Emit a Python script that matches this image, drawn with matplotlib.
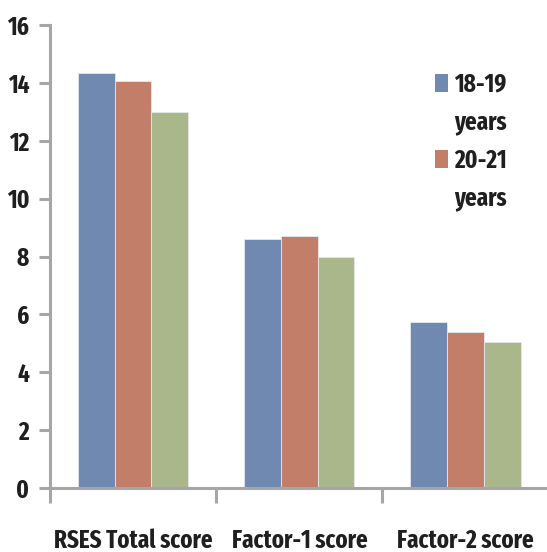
import matplotlib
matplotlib.use("Agg")
import matplotlib.pyplot as plt
import numpy as np
from matplotlib.patches import Patch

# Mean scores per age group
categories = ["RSES Total score", "Factor-1 score", "Factor-2 score"]
series_labels = ["18-19\nyears", "20-21\nyears", "22-23\nyears"]
scores_18_19 = [14.34, 8.60, 5.74]
scores_20_21 = [14.06, 8.71, 5.39]
scores_22_23 = [12.99, 7.98, 5.04]
yticks = [0, 2, 4, 6, 8, 10, 12, 14, 16]

colors = ["#7089B0", "#C27E68", "#AAB78A"]
axis_grey = "#A6A6A6"
text_dark = "#1F1F1F"
fs = 18

plt.rcParams["font.family"] = ["Fira Sans Extra Condensed", "DejaVu Sans"]
plt.rcParams["font.weight"] = "bold"

fig = plt.figure(figsize=(5.47, 5.52), dpi=100)
ax = fig.add_axes([0.0914, 0.1159, 0.9086, 0.8388])

x = np.arange(len(categories))
width = 0.221
all_series = [scores_18_19, scores_20_21, scores_22_23]
for i, (vals, col) in enumerate(zip(all_series, colors)):
    ax.bar(x + (i - 1) * width, vals, width, color=col,
           edgecolor="#E4E8EE", linewidth=0.6, zorder=2)

ax.set_ylim(0, 16)
ax.set_xlim(-0.5, 2.49)
ax.set_yticks(yticks)
ax.set_yticklabels([str(t) for t in yticks], fontsize=fs, color=text_dark,
                   fontweight="bold")

# boundary ticks between categories, labels centred on the groups
ax.set_xticks(np.arange(len(categories)) - 0.5)
ax.set_xticklabels([])
ax.set_xticks(x, minor=True)
ax.set_xticklabels(categories, minor=True, fontsize=fs, color=text_dark,
                   fontweight="bold")
ax.tick_params(axis="x", which="major", length=11, width=2.2, color=axis_grey,
               direction="out")
ax.tick_params(axis="x", which="minor", length=0, pad=29)
ax.tick_params(axis="y", length=8, width=2.2, color=axis_grey, pad=7)

for side in ("top", "right"):
    ax.spines[side].set_visible(False)
for side in ("left", "bottom"):
    ax.spines[side].set_color(axis_grey)
    ax.spines[side].set_linewidth(2.2)

# legend: colour box on the first line, second line of the label below it
handles = []
labels = []
for lab, col in zip(series_labels[:2], colors[:2]):
    first, second = lab.split("\n")
    handles.append(Patch(facecolor=col, edgecolor="none"))
    labels.append(first)
    handles.append(Patch(facecolor="none", edgecolor="none"))
    labels.append(second)

leg = ax.legend(handles, labels, loc="upper left", bbox_to_anchor=(0.775, 0.898),
                frameon=False, fontsize=fs, handlelength=0.52, handleheight=0.72,
                handletextpad=0.25, labelspacing=0.52, borderaxespad=0,
                borderpad=0)
for t in leg.get_texts():
    t.set_color(text_dark)
    t.set_fontweight("bold")

fig.savefig("out.png", dpi=100)
